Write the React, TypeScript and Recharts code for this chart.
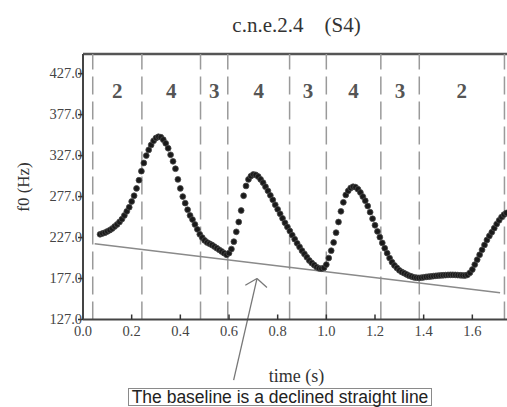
import { ScatterChart, Scatter, XAxis, YAxis, ReferenceLine } from 'recharts'

// f0 track, sampled every 10 ms from 0.07 s
const F0_START = 0.07
const F0_STEP = 0.01
const f0Values = [
    231, 232, 233, 234.5, 236, 238, 240.5, 243, 246, 249.5,
    254, 259, 264, 271, 278, 287, 297, 308, 318, 327,
    334, 340, 345, 348.5, 350, 349.5, 346.5, 342, 336, 328,
    320, 311, 298, 287, 277, 269, 261, 254, 249, 243,
    237, 231, 227, 223.5, 221, 219.5, 218, 216, 214, 212,
    210, 208, 206, 208, 213, 222, 234, 246, 260, 278,
    290, 298, 302, 304, 303.5, 301.5, 298, 294, 289, 284,
    278.5, 273, 267, 261.5, 256, 250.5, 245, 240, 235, 230,
    225, 220, 215.5, 211, 207, 203, 199, 196, 193.5, 191,
    189.5, 189, 190, 194, 202, 211, 221, 233, 246, 259,
    270, 279, 284, 287.5, 289, 288.5, 286, 282, 277, 272,
    265.5, 258, 250, 242, 234.5, 227.5, 220.5, 214, 208, 202,
    197, 193, 190, 187, 185, 183.5, 182, 180.5, 179.5, 178.5,
    178, 177.8, 178, 178.5, 179, 179.3, 179.6, 180, 180.3, 180.6,
    180.8, 181, 181.2, 181.4, 181.5, 181.5, 181.4, 181.2, 181, 180.8,
    180.7, 181.5, 184, 188, 194, 200, 206, 212, 218, 224,
    229, 233.5, 238.5, 243.5, 248, 252, 255, 257,
]

// syllable boundaries (s) and tones between them
const boundaries = [0.04, 0.242, 0.483, 0.595, 0.849, 1.0, 1.224, 1.382, 1.732]
const tones = ['2', '4', '3', '4', '3', '4', '3', '2']
const TONE_LABEL_F = 406

// declined baseline, end points (s, Hz)
const baselineT = [0.048, 1.714]
const baselineF = [219.5, 159.6]

// arrow from the note up to the baseline
const arrowTailT = 0.619, arrowTailF = 53
const arrowTipT = 0.715, arrowTipF = 177
const arrowHeadT = [0.667, 0.756]
const arrowHeadF = [168.8, 166]

const xTicks = [0, 0.2, 0.4, 0.6, 0.8, 1.0, 1.2, 1.4, 1.6]
const yTicks = [127, 177, 227, 277, 327, 377, 427]

const f0Data = f0Values.map((f, i) => ({ t: Number((F0_START + i * F0_STEP).toFixed(2)), f }))
const toneData = tones.map((tone, i) => ({
    t: (boundaries[i] + boundaries[i + 1]) / 2,
    f: TONE_LABEL_F,
    tone,
}))

const SERIF = '"Liberation Serif", "Times New Roman", serif'

const XTick = ({ x, y, payload }: any) => (
    <g>
        {payload.value > 0 && <line x1={x} x2={x} y1={y} y2={y - 5} stroke="#333" strokeWidth={1.5} />}
        <text x={x} y={y + 16} textAnchor="middle" fontFamily={SERIF} fontSize={14.5} fill="#444">
            {Number(payload.value).toFixed(1)}
        </text>
    </g>
)

const YTick = ({ x, y, payload }: any) => (
    <g>
        <line x1={x - 5} x2={x} y1={y} y2={y} stroke="#333" strokeWidth={1.5} />
        <text x={x - 1} y={y} dy={4} textAnchor="end" fontFamily={SERIF} fontSize={14.5} fill="#444">
            {Number(payload.value).toFixed(1)}
        </text>
    </g>
)

const Dot = ({ cx, cy }: any) => (
    <circle cx={cx} cy={cy} r={2.9} fill="#1a1a1a" stroke="#4a4a4a" strokeWidth={0.8} />
)

const ToneLabel = ({ cx, cy, payload }: any) => (
    <text x={cx} y={cy} dy={7} textAnchor="middle" fontFamily={SERIF} fontWeight="bold" fontSize={21} fill="#555">
        {payload.tone}
    </text>
)

export default function App() {
    return (
        <div style={{ position: 'absolute', left: 0, top: 0, width: 507, height: 407, overflow: 'hidden', background: '#fff' }}>
            <div style={{
                position: 'absolute', left: 0, width: 593, top: 12, textAlign: 'center',
                fontFamily: SERIF, fontSize: 21, color: '#333', whiteSpace: 'pre', lineHeight: '26px'
            }}>
                {'c.n.e.2.4    (S4)'}
            </div>
            <div style={{
                position: 'absolute', left: 24, top: 187, transform: 'translate(-50%, -50%) rotate(-90deg)',
                fontFamily: SERIF, fontSize: 17, color: '#333', whiteSpace: 'nowrap'
            }}>
                f0 (Hz)
            </div>
            <ScatterChart width={540} height={407} margin={{ top: 54, right: 19, bottom: 0, left: 0 }}>
                <XAxis
                    type="number"
                    dataKey="t"
                    domain={[0, 1.8]}
                    allowDataOverflow
                    ticks={xTicks}
                    tick={<XTick />}
                    tickSize={0}
                    tickMargin={0}
                    tickLine={false}
                    height={87.5}
                    axisLine={{ stroke: '#444', strokeWidth: 2 }}
                />
                <YAxis
                    type="number"
                    dataKey="f"
                    domain={[127, 451]}
                    allowDataOverflow
                    ticks={yTicks}
                    tick={<YTick />}
                    tickSize={0}
                    tickMargin={0}
                    tickLine={false}
                    width={83}
                    axisLine={{ stroke: '#444', strokeWidth: 2 }}
                />
                <ReferenceLine y={451} stroke="#555" strokeWidth={2.5} />
                {boundaries.map(b => (
                    <ReferenceLine key={b} x={b} stroke="#9a9a9a" strokeWidth={1.5} strokeDasharray="18 7" />
                ))}
                <ReferenceLine
                    segment={[{ x: baselineT[0], y: baselineF[0] }, { x: baselineT[1], y: baselineF[1] }]}
                    stroke="#8a8a8a"
                    strokeWidth={1.5}
                />
                <ReferenceLine
                    segment={[{ x: arrowTailT, y: arrowTailF }, { x: arrowTipT, y: arrowTipF }]}
                    stroke="#777"
                    strokeWidth={1.3}
                    ifOverflow="visible"
                />
                {arrowHeadT.map((t, i) => (
                    <ReferenceLine
                        key={t}
                        segment={[{ x: t, y: arrowHeadF[i] }, { x: arrowTipT, y: arrowTipF }]}
                        stroke="#777"
                        strokeWidth={1.3}
                        ifOverflow="visible"
                    />
                ))}
                <Scatter data={f0Data} shape={<Dot />} isAnimationActive={false} />
                <Scatter data={toneData} shape={<ToneLabel />} isAnimationActive={false} />
            </ScatterChart>
            <div style={{
                position: 'absolute', left: 0, width: 593, top: 365, textAlign: 'center',
                fontFamily: SERIF, fontSize: 18, color: '#333', lineHeight: '22px'
            }}>
                time (s)
            </div>
            <div style={{
                position: 'absolute', left: 128, top: 388, width: 302, height: 16,
                border: '1.5px solid #8a8a8a', fontFamily: '"Liberation Sans", Arial, sans-serif',
                fontSize: 17.5, lineHeight: '16px', color: '#222', textAlign: 'center', whiteSpace: 'nowrap'
            }}>
                The baseline is a declined straight line
            </div>
        </div>
    )
}
